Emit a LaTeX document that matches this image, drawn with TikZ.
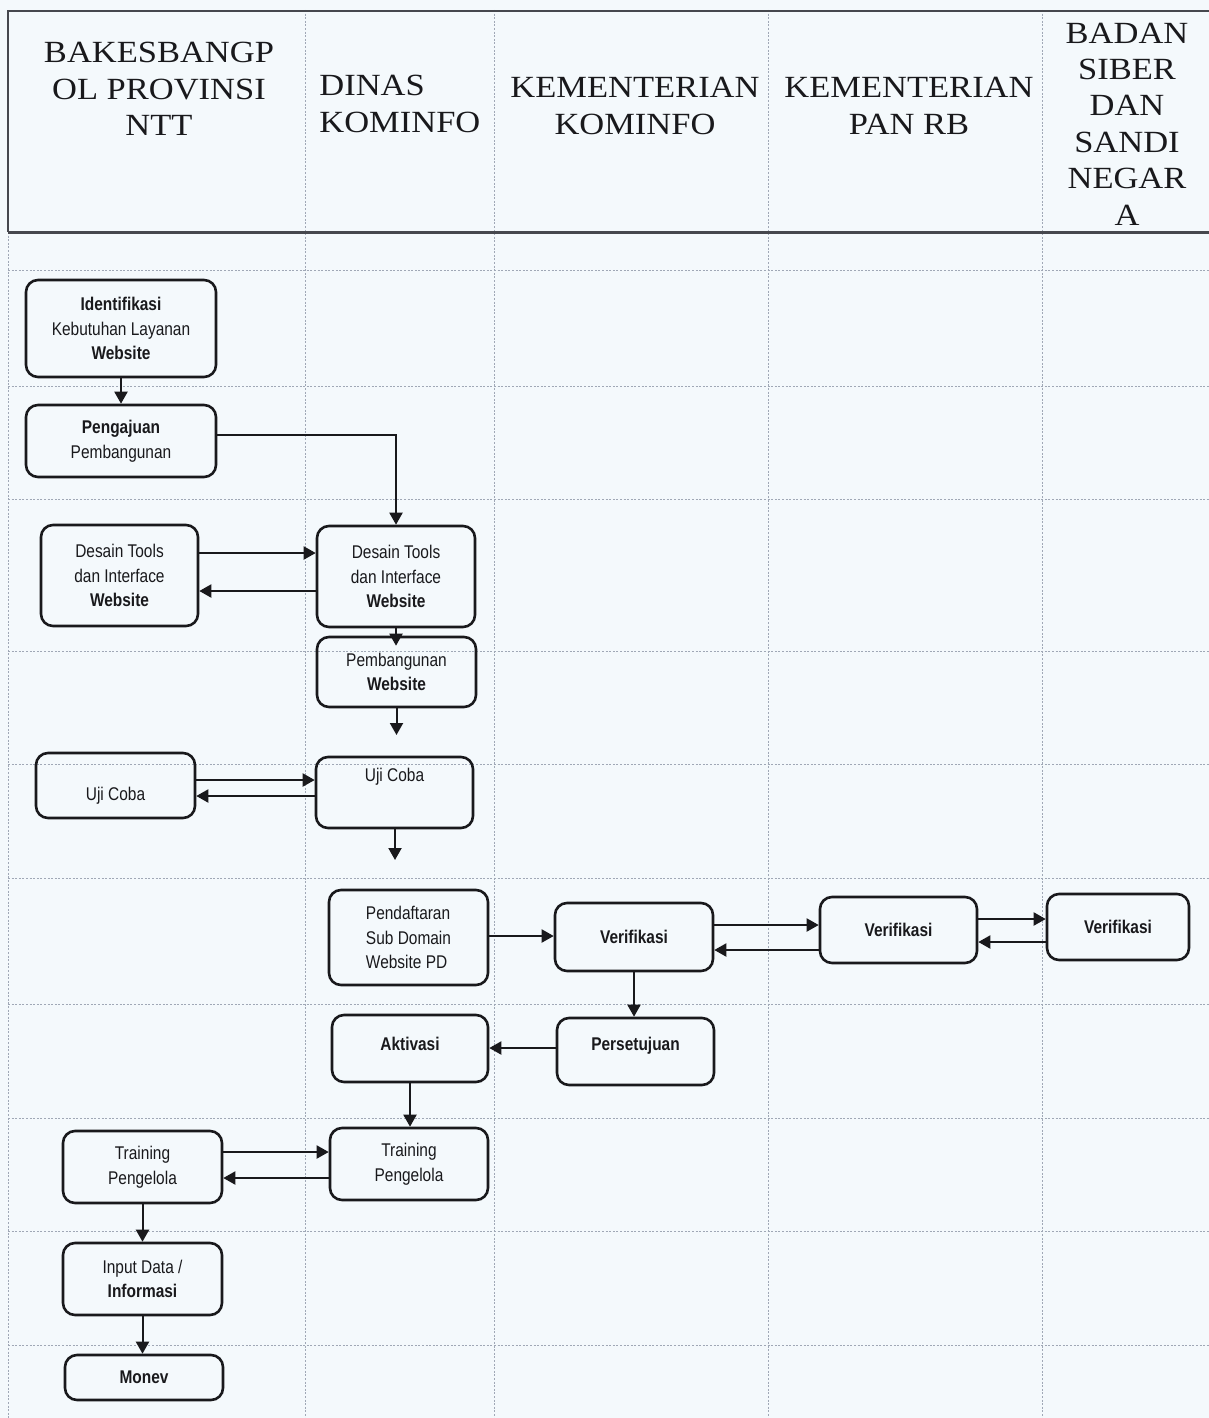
\documentclass[tikz,border=0pt]{standalone}
\usepackage{fontspec}
\usetikzlibrary{arrows.meta}
\newfontfamily\hdrfont[FakeStretch=1.12]{Liberation Serif}
\newfontfamily\boxfont[FakeStretch=0.84]{Liberation Sans}
\definecolor{bgc}{RGB}{244,249,252}
\definecolor{gridc}{RGB}{160,168,182}
\definecolor{framec}{RGB}{70,72,78}
\definecolor{inkc}{RGB}{25,25,28}
\newcommand{\upby}[2]{\raisebox{#1}[\height][\depth]{#2}}
\tikzset{
  gridline/.style={gridc, line width=0.5pt, dash pattern=on 1pt off 0.8pt},
  frameline/.style={framec, line width=1.2pt},
  hdr/.style={inkc, inner sep=0pt, align=center, font=\hdrfont\fontsize{15.4pt}{18.2pt}\selectfont},
  proc/.style={draw=inkc, line width=1.3pt, rounded corners=6pt, inner sep=0pt, align=center,
    text=inkc, font=\boxfont\fontsize{9.2pt}{12.25pt}\selectfont},
  arr/.style={inkc, line width=1pt, -{Triangle[length=6pt,width=6.5pt]}}
}
\begin{document}
\begin{tikzpicture}[x=0.5pt,y=-0.5pt]
\useasboundingbox (0,0) rectangle (1209,1418);
\fill[bgc] (0,0) rectangle (1209,1418);
% grid
\foreach \yy in {270,386,499,651,764,878,1004,1118,1231,1345}
  \draw[gridline] (8,\yy) -- (1209,\yy);
\foreach \xx in {305,494,768,1042}
  \draw[gridline] (\xx,10) -- (\xx,1418);
\draw[gridline] (8,232) -- (8,1418);
% header frame
\draw[frameline] (1209,11) -- (8,11) -- (8,232);
\draw[framec, line width=1.5pt] (8,232) -- (1209,232);
% header texts
\node[hdr] (h1) at (159,89) {BAKESBANGP\\OL PROVINSI\\NTT};
\node[hdr, anchor=west, align=left] (h2) at (319,104) {DINAS\\KOMINFO};
\node[hdr] (h3) at (635,106) {KEMENTERIAN\\KOMINFO};
\node[hdr] (h4) at (909,106) {KEMENTERIAN\\PAN RB};
\node[hdr] (h5) at (1127,124) {BADAN\\SIBER\\DAN\\SANDI\\NEGAR\\A};
% process boxes
\node[proc, minimum width=95pt, minimum height=48.5pt] (iden) at (121,328.5)
  {\textbf{Identifikasi}\\Kebutuhan Layanan\\\textbf{Website}};
\node[proc, minimum width=95pt, minimum height=36pt] (peng) at (121,441)
  {\textbf{Pengajuan}\\Pembangunan};
\node[proc, minimum width=78.5pt, minimum height=50.5pt] (d1) at (119.5,575.5)
  {Desain Tools\\dan Interface\\\textbf{Website}};
\node[proc, minimum width=79pt, minimum height=50.5pt] (d2) at (396,576.5)
  {Desain Tools\\dan Interface\\\textbf{Website}};
\node[proc, minimum width=79.5pt, minimum height=35pt] (pemb) at (396.5,672)
  {Pembangunan\\\textbf{Website}};
\node[proc, minimum width=79.5pt, minimum height=32.5pt] (uc1) at (115.5,785.5)
  {\upby{-5pt}{Uji Coba}};
\node[proc, minimum width=78.5pt, minimum height=35.5pt] (uc2) at (394.5,792.5)
  {\upby{7.75pt}{Uji Coba}};
\node[proc, minimum width=79.5pt, minimum height=47.5pt, align=left] (pend) at (408.5,937.5)
  {Pendaftaran\\Sub Domain\\Website PD};
\node[proc, minimum width=79pt, minimum height=34pt] (v1) at (634,937) {\textbf{Verifikasi}};
\node[proc, minimum width=78.5pt, minimum height=33pt] (v2) at (898.5,930) {\textbf{Verifikasi}};
\node[proc, minimum width=71pt, minimum height=33pt] (v3) at (1118,927) {\textbf{Verifikasi}};
\node[proc, minimum width=78.5pt, minimum height=33.5pt] (pers) at (635.5,1051.5)
  {\upby{3pt}{\textbf{Persetujuan}}};
\node[proc, minimum width=78pt, minimum height=33.5pt] (akt) at (410,1048.5)
  {\upby{2.5pt}{\textbf{Aktivasi}}};
\node[proc, minimum width=79pt, minimum height=36pt] (tr2) at (409,1164)
  {Training\\Pengelola};
\node[proc, minimum width=79.5pt, minimum height=36pt] (tr1) at (142.5,1167)
  {Training\\Pengelola};
\node[proc, minimum width=79.5pt, minimum height=36pt] (inp) at (142.5,1279)
  {Input Data /\\\textbf{Informasi}};
\node[proc, minimum width=79pt, minimum height=22.5pt] (mon) at (144,1377.5)
  {\textbf{Monev}};
% free ends
\coordinate (e1) at (396.5,735);
\coordinate (e2) at (395,860);
% connectors
\draw[arr] (iden.south) -- (peng.north);
\draw[arr] (peng.east |- 0,435) -| (d2.north);
\draw[arr] (d1.east |- 0,553) -- (d2.west |- 0,553);
\draw[arr] (d2.west |- 0,591) -- (d1.east |- 0,591);
\draw[arr] (d2.south) -- ([yshift=-5pt]d2.south |- pemb.north);
\draw[arr] (pemb.south) -- (e1);
\draw[arr] (uc1.east |- 0,780) -- (uc2.west |- 0,780);
\draw[arr] (uc2.west |- 0,796) -- (uc1.east |- 0,796);
\draw[arr] (uc2.south -| e2) -- (e2);
\draw[arr] (pend.east |- 0,936) -- (v1.west |- 0,936);
\draw[arr] (v1.east |- 0,925) -- (v2.west |- 0,925);
\draw[arr] (v2.west |- 0,950) -- (v1.east |- 0,950);
\draw[arr] (v2.east |- 0,919) -- (v3.west |- 0,919);
\draw[arr] (v3.west |- 0,942) -- (v2.east |- 0,942);
\draw[arr] (v1.south) -- (v1.south |- pers.north);
\draw[arr] (pers.west |- 0,1048) -- (akt.east |- 0,1048);
\draw[arr] (akt.south) -- (akt.south |- tr2.north);
\draw[arr] (tr1.east |- 0,1152) -- (tr2.west |- 0,1152);
\draw[arr] (tr2.west |- 0,1178) -- (tr1.east |- 0,1178);
\draw[arr] (tr1.south) -- (tr1.south |- inp.north);
\draw[arr] (inp.south) -- (inp.south |- mon.north);
\end{tikzpicture}
\end{document}
